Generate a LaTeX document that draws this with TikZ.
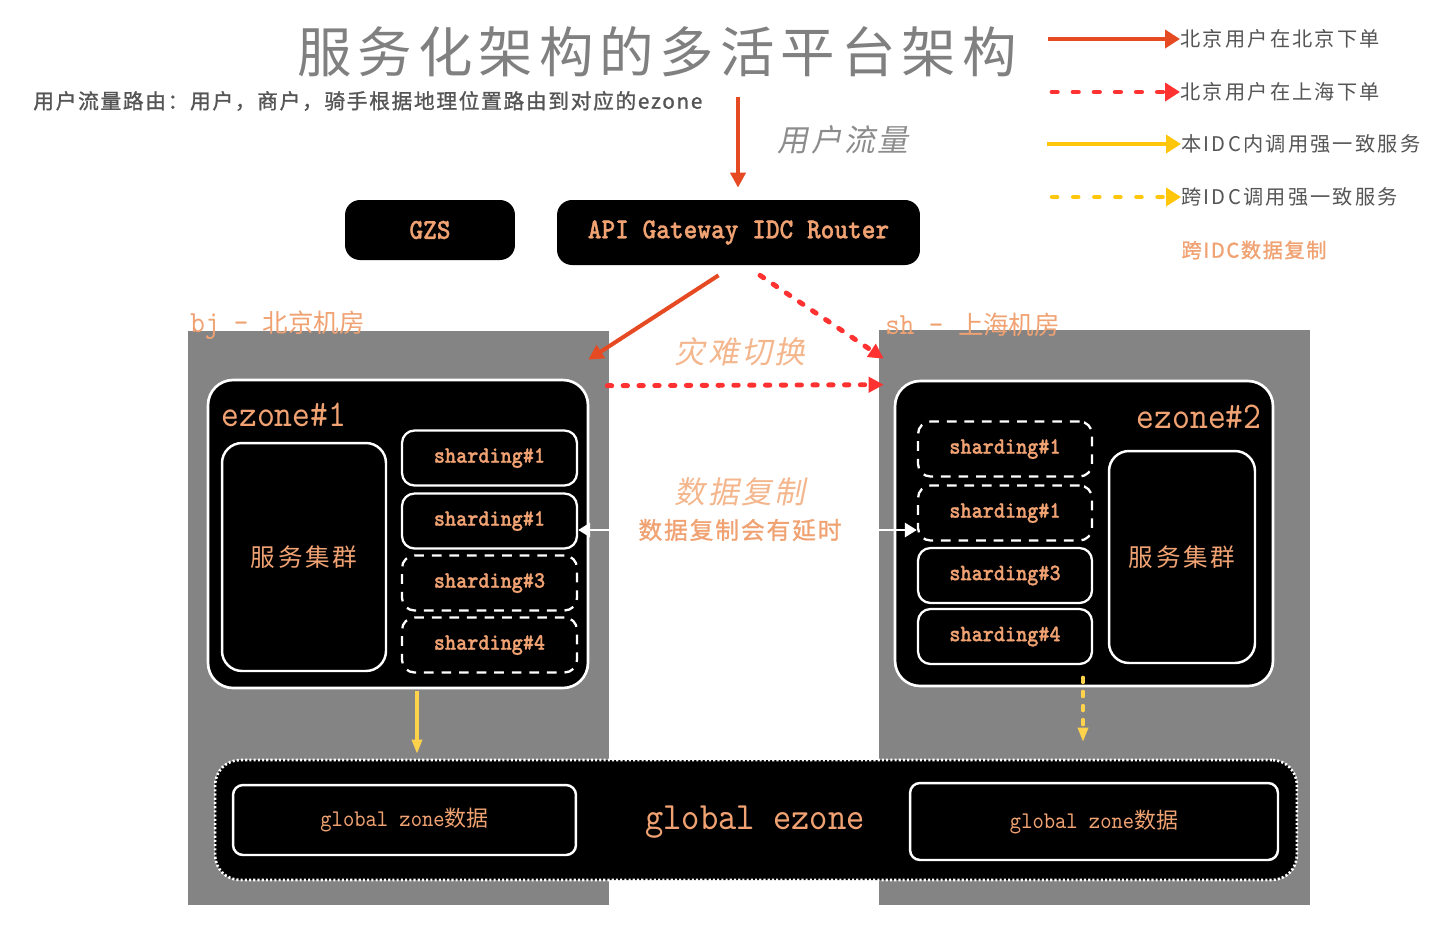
\documentclass[tikz,border=0pt]{standalone}
\usepackage{fontspec}
\setmainfont{Noto Sans CJK SC}
\newfontfamily\cjk{Noto Sans CJK SC}
\newfontfamily\cjksp[LetterSpace=11]{Noto Sans CJK SC}
\newfontfamily\cjkit[FakeSlant=0.2,LetterSpace=8]{Noto Sans CJK SC}
\newfontfamily\cjkbf[FakeBold=1.2,LetterSpace=8]{Noto Sans CJK SC}
\newfontfamily\codefont[Extension=.otf, UprightFont=lmmono10-regular,
  BoldFont=lmmonolt10-bold, BoldFeatures={FakeBold=1}, FakeStretch=0.9]{lmmono10-regular}
\usepackage{xcolor}
\definecolor{peach}{HTML}{F0A272}
\definecolor{lorange}{HTML}{F4B68C}
\definecolor{roomgray}{HTML}{848484}
\definecolor{titlegray}{HTML}{808080}
\definecolor{subgray}{HTML}{555555}
\definecolor{itgray}{HTML}{8C8C8C}
\definecolor{lred}{HTML}{E64A22}
\definecolor{ldot}{HTML}{FF3131}
\definecolor{lyel}{HTML}{FFC60A}
\definecolor{ayel}{HTML}{FFD24C}
\usetikzlibrary{arrows.meta, positioning, calc}

\begin{document}
\begin{tikzpicture}[
  x=0.02cm, y=-0.02cm,
  txt/.style={inner sep=0pt},
  room/.style={fill=roomgray, inner sep=0pt},
  blk/.style={fill=black, rounded corners=0.3cm, text=peach,
    font=\codefont\bfseries\fontsize{16.5}{18}\selectfont},
  zone/.style={fill=black, draw=white, line width=1.5pt, rounded corners=0.5cm},
  svc/.style={draw=white, line width=1.4pt, rounded corners=0.4cm, text=peach,
    font=\cjksp\fontsize{14}{16}\selectfont},
  shd/.style={draw=white, line width=1.3pt, rounded corners=0.25cm, minimum height=1.1cm,
    text=peach, font=\codefont\bfseries\fontsize{13.4}{15}\selectfont},
  shdd/.style={shd, dash pattern=on 5.5pt off 4.5pt},
  gz/.style={draw=white, line width=1.4pt, rounded corners=0.2cm, text=peach},
  redarr/.style={-{Triangle[length=0.3cm,width=0.3cm]}, lred, line width=2.3pt},
  reddot/.style={-{Triangle[length=0.3cm,width=0.3cm]}, ldot, line width=2.8pt,
    dash pattern=on 2.5pt off 6.5pt, line cap=round},
  wharr/.style={-{Triangle[length=0.24cm,width=0.28cm]}, white, line width=1.6pt},
  yarr/.style={-{Triangle[length=0.28cm,width=0.2cm]}, ayel, line width=1.8pt},
  ydash/.style={yarr, dash pattern=on 3pt off 5pt, line cap=round},
  lgline/.style={-{Triangle[length=0.3cm,width=0.36cm]}, line width=2.8pt}
]
  \fill[white] (0,0) rectangle (1442,930);
  \useasboundingbox (0,0) rectangle (1442,930);

  \node[txt, text=titlegray, font=\cjksp\fontsize{31}{33}\selectfont] (title) at (657,52)
    {服务化架构的多活平台架构};
  \node[txt, anchor=west, text=subgray, font=\cjkbf\fontsize{11.8}{13}\selectfont] (sub) at (33,101)
    {用户流量路由：用户，商户，骑手根据地理位置路由到对应的ezone};

  \node[txt, anchor=west, text=subgray, font=\cjksp\fontsize{11.5}{13}\selectfont] (lg1) at (1180,39) {北京用户在北京下单};
  \node[txt, anchor=west, text=subgray, font=\cjksp\fontsize{11.5}{13}\selectfont] (lg2) at (1180,92) {北京用户在上海下单};
  \node[txt, anchor=west, text=subgray, font=\cjksp\fontsize{11.5}{13}\selectfont] (lg3) at (1181,144) {本IDC内调用强一致服务};
  \node[txt, anchor=west, text=subgray, font=\cjksp\fontsize{11.5}{13}\selectfont] (lg4) at (1181,197) {跨IDC调用强一致服务};
  \node[txt, text=peach, font=\cjkbf\fontsize{11.5}{13}\selectfont] (lg5) at (1254,250) {跨IDC数据复制};
  \coordinate (lg1s) at (1048,39);
  \coordinate (lg2s) at (1052,92);
  \coordinate (lg3s) at (1047,144);
  \coordinate (lg4s) at (1052,197);
  \draw[lgline, lred] (lg1s) -- (lg1.west);
  \draw[lgline, ldot, dash pattern=on 3pt off 9pt, line cap=round] (lg2s) -- (lg2.west);
  \draw[lgline, lyel, line width=2.4pt] (lg3s) -- (lg3.west);
  \draw[lgline, lyel, line width=2.4pt, dash pattern=on 3pt off 9pt, line cap=round] (lg4s) -- (lg4.west);

  \node[blk, minimum width=3.4cm, minimum height=1.2cm] (gzs) at (430,230) {GZS};
  \node[blk, minimum width=7.26cm, minimum height=1.3cm] (gw) at (738.5,232.5) {API Gateway IDC Router};
  \coordinate (usr) at (738,97);
  \draw[redarr, shorten >=0.24cm] (usr) -- (usr |- gw.north);
  \node[txt, text=itgray, font=\cjkit\fontsize{17.5}{19}\selectfont] (flow) at (843,140) {用户流量};

  \node[room, minimum width=8.42cm, minimum height=11.48cm] (bj) at (398.5,618) {};
  \node[room, minimum width=8.62cm, minimum height=11.5cm] (sh) at (1094.5,617.5) {};
  \node[txt, anchor=west, text=peach] (bjl) at (190,325)
    {{\codefont\fontsize{17.5}{18}\selectfont bj - }{\cjk\fontsize{14.5}{16}\selectfont 北京机房}};
  \node[txt, anchor=west, text=peach] (shl) at (885,325)
    {{\codefont\fontsize{17.5}{18}\selectfont sh - }{\cjk\fontsize{14.5}{16}\selectfont 上海机房}};

  \node[zone, minimum width=7.6cm, minimum height=6.16cm] (ez1) at (398,534) {};
  \node[txt, anchor=west, text=peach, font=\codefont\fontsize{21.5}{22}\selectfont] (ez1l) at (221,415) {ezone\#1};
  \node[svc, minimum width=3.28cm, minimum height=4.56cm] (svc1) at (304,557) {服务集群};
  \foreach \n/\y/\t/\s in {s1a/458/1/shd, s1b/521/1/shd, s1c/583/3/shdd, s1d/645/4/shdd}
    \node[\s, minimum width=3.5cm] (\n) at (489.5,\y) {sharding\#\t};

  \node[zone, minimum width=7.56cm, minimum height=6.1cm] (ez2) at (1084,533.5) {};
  \node[txt, anchor=east, text=peach, font=\codefont\fontsize{21.5}{22}\selectfont] (ez2l) at (1262,417) {ezone\#2};
  \node[svc, minimum width=2.92cm, minimum height=4.24cm] (svc2) at (1182,557) {服务集群};
  \foreach \n/\y/\t/\s in {s2a/449/1/shdd, s2b/513/1/shdd, s2c/575.5/3/shd, s2d/636.5/4/shd}
    \node[\s, minimum width=3.48cm] (\n) at (1005,\y) {sharding\#\t};

  \draw[redarr] ([xshift=-0.4cm,yshift=-0.2cm]gw.south) -- ([xshift=-0.42cm,yshift=-0.58cm]bj.north east);
  \draw[reddot] ([xshift=0.43cm,yshift=-0.2cm]gw.south) -- ([xshift=0.1cm,yshift=-0.58cm]sh.north west);
  \draw[reddot, shorten >=-0.1cm] ([xshift=-0.04cm,yshift=-1.1cm]bj.north east) -- ([yshift=-1.1cm]sh.north west);
  \node[txt, text=lorange, font=\cjkit\fontsize{17.5}{19}\selectfont] (dr) at (740,352) {灾难切换};
  \node[txt, text=lorange, font=\cjkit\fontsize{17.5}{19}\selectfont] (rep) at (740,492) {数据复制};
  \node[txt, text=peach, font=\cjkbf\fontsize{13.5}{15}\selectfont] (delay) at (740,530) {数据复制会有延时};
  \draw[wharr] (delay.west) -- (delay.west -| s1b.east);
  \draw[wharr] (delay.east) -- (delay.east -| s2b.west);

  \node[zone, dash pattern=on 1.2pt off 1.2pt, minimum width=21.64cm, minimum height=2.4cm] (glob) at (756,820) {};
  \node[txt, text=peach, font=\codefont\fontsize{22}{23}\selectfont] (globl) at (755,822) {global ezone};
  \node[gz, minimum width=6.86cm, minimum height=1.4cm] (gz1) at (404.5,820)
    {{\codefont\fontsize{13.6}{15}\selectfont global zone}{\cjk\fontsize{12.5}{14}\selectfont 数据}};
  \node[gz, minimum width=7.36cm, minimum height=1.54cm] (gz2) at (1094,821.5)
    {{\codefont\fontsize{13.6}{15}\selectfont global zone}{\cjk\fontsize{12.5}{14}\selectfont 数据}};

  \draw[yarr, shorten <=0.04cm, shorten >=0.1cm] ([xshift=0.38cm]ez1.south) -- ([xshift=0.38cm]ez1.south |- glob.north);
  \draw[ydash, shorten <=-0.2cm, shorten >=0.34cm] ([xshift=-0.02cm]ez2.south) -- ([xshift=-0.02cm]ez2.south |- glob.north);
\end{tikzpicture}
\end{document}
